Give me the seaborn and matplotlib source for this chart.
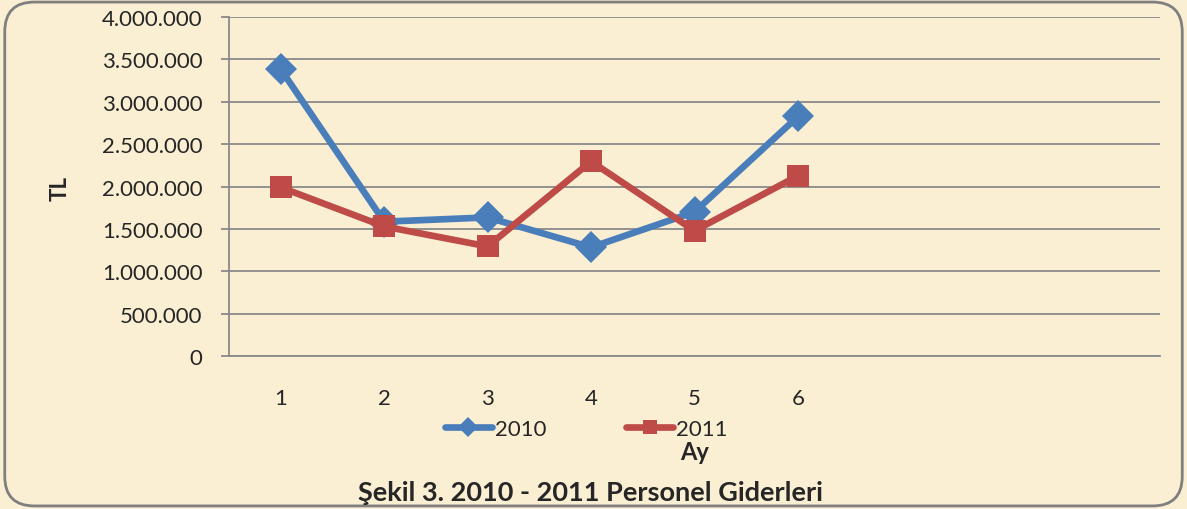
import matplotlib
matplotlib.use("Agg")
import matplotlib.pyplot as plt
import matplotlib.ticker as mticker
from matplotlib.patches import FancyBboxPatch
import pandas as pd
import seaborn as sns

# values (TL)
months = ["1", "2", "3", "4", "5", "6"]
giderler_2010 = [3385000, 1585000, 1635000, 1282000, 1700000, 2826000]
giderler_2011 = [1990000, 1529000, 1293000, 2296000, 1478000, 2126000]
n_slots = 9  # the category axis has room for 9 months, only 6 filled

sns.set_style("white")
plt.rcParams["font.family"] = ["Lato", "DejaVu Sans"]

df = pd.DataFrame({
    "pos": list(range(len(months))) * 2,
    "TL": giderler_2010 + giderler_2011,
    "yil": ["2010"] * len(months) + ["2011"] * len(months),
})

bg = "#FAEFD3"
fig = plt.figure(figsize=(11.87, 5.10), dpi=100, facecolor=bg)
frame = FancyBboxPatch((0.004, 0.006), 0.992, 0.988, boxstyle="round,pad=0,rounding_size=0.025",
                       transform=fig.transFigure, facecolor=bg, edgecolor="#7f7f7f",
                       linewidth=2, mutation_aspect=1187 / 510, zorder=-10)
fig.patches.append(frame)
ax = fig.add_axes([0.1929, 0.30, 0.7844, 0.6647])
ax.set_facecolor("none")

sns.lineplot(data=df, x="pos", y="TL", hue="yil", style="yil",
             palette={"2010": "#4A7EBB", "2011": "#BE4B48"},
             markers={"2010": "D", "2011": "s"}, dashes=False,
             linewidth=4.8, markersize=16, markeredgewidth=0, ax=ax, legend=True)

ax.set_xlim(-0.5, n_slots - 0.5)
ax.set_ylim(0, 4000000)
ax.yaxis.set_major_locator(mticker.MultipleLocator(500000))
ax.yaxis.set_major_formatter(mticker.FuncFormatter(lambda v, p: f"{int(v):,}".replace(",", ".")))
ax.grid(axis="y", color="#8a8a8a", linewidth=1.3)
ax.set_axisbelow(True)

ax.set_xticks(range(len(months)))
ax.set_xticklabels(months)
ax.set_xticks([i - 0.5 for i in range(n_slots + 1)], minor=True)
ax.tick_params(axis="x", which="major", length=0, pad=23, labelsize=16)
ax.tick_params(axis="x", which="minor", length=6, width=1.3, color="#8a8a8a", direction="out")
ax.tick_params(axis="y", length=6, width=1.3, color="#8a8a8a", pad=13, labelsize=16, left=True)

for s in ["top", "right"]:
    ax.spines[s].set_visible(False)
for s in ["left", "bottom"]:
    ax.spines[s].set_color("#8a8a8a")
    ax.spines[s].set_linewidth(1.3)

ax.set_xlabel("")
ax.set_ylabel("")
fig.text(0.0505, 0.631, "TL", rotation=90, fontsize=16, fontweight="bold", ha="center", va="center")
fig.text(0.585, 0.112, "Ay", fontsize=17, fontweight="bold", ha="center", va="center")
fig.text(0.497, 0.033, "Şekil 3. 2010 - 2011 Personel Giderleri", fontsize=19.5, fontweight="bold",
         ha="center", va="center")

handles, labels = ax.get_legend_handles_labels()
ax.legend(handles, labels, ncol=2, frameon=False, fontsize=16, loc="center",
          bbox_to_anchor=(0.494, 0.157), bbox_transform=fig.transFigure,
          handlelength=2.1, handletextpad=0.15, columnspacing=3.6, markerscale=0.65)

fig.savefig("out.png", dpi=100, facecolor=bg)
